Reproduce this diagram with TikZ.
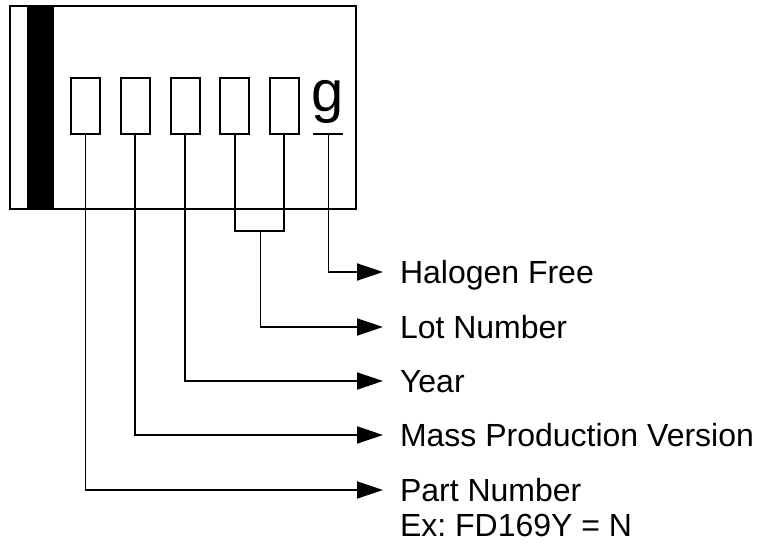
\documentclass[tikz,border=0pt]{standalone}
\usepackage{fontspec}
\setmainfont{Liberation Sans}
\usetikzlibrary{arrows.meta}
\begin{document}
\frenchspacing
\begin{tikzpicture}[x=1pt,y=-1pt, line width=2pt,
  digit/.style={draw, minimum width=29pt, minimum height=56pt, inner sep=0pt},
  lbl/.style={anchor=west, inner sep=0pt, font=\fontsize{32}{36}\selectfont, text height=23pt, text depth=0pt},
  conn/.style={-{Triangle[length=26pt,width=17pt]}, line width=1.9pt}]
\useasboundingbox (0,0) rectangle (757,548);
% chip body
\node[draw, minimum width=346pt, minimum height=203pt, anchor=north west, inner sep=0pt] (chip) at (9,5) {};
\node[fill, minimum width=27pt, minimum height=203pt, anchor=north west, inner sep=0pt] (bar) at (26,5) {};
% digit boxes
\node[digit] (b1) at (85.5,106) {};
\node[digit] (b2) at (135,106) {};
\node[digit] (b3) at (185,106) {};
\node[digit] (b4) at (234.5,106) {};
\node[digit] (b5) at (284,106) {};
\node[font=\fontsize{58}{58}\selectfont, inner sep=0pt, anchor=base] (g) at (328,112) {g};
\coordinate (gl) at (313,134);
\coordinate (gr) at (343,134);
\coordinate (gs) at (328.5,134);
\draw (gl) -- (gr);
% labels
\node[lbl] (hf) at (399,272) {Halogen Free};
\node[lbl] (ln) at (399,327) {Lot Number};
\node[lbl] (yr) at (399,381) {Year};
\node[lbl] (mp) at (399,435) {Mass Production Version};
\node[lbl] (pn) at (399,490) {Part Number};
\node[lbl] (ex) at (399,525) {Ex: FD169Y = N};
% connectors
\coordinate (lj) at (260.5,231);
\draw (b4.south) |- (lj) -| (b5.south);
\draw[conn] (gs) |- ([xshift=-16pt]hf.west);
\draw[conn] (lj) |- ([xshift=-16pt]ln.west);
\draw[conn] (b3.south) |- ([xshift=-16pt]yr.west);
\draw[conn] (b2.south) |- ([xshift=-16pt]mp.west);
\draw[conn] (b1.south) |- ([xshift=-16pt]pn.west);
\end{tikzpicture}
\end{document}
